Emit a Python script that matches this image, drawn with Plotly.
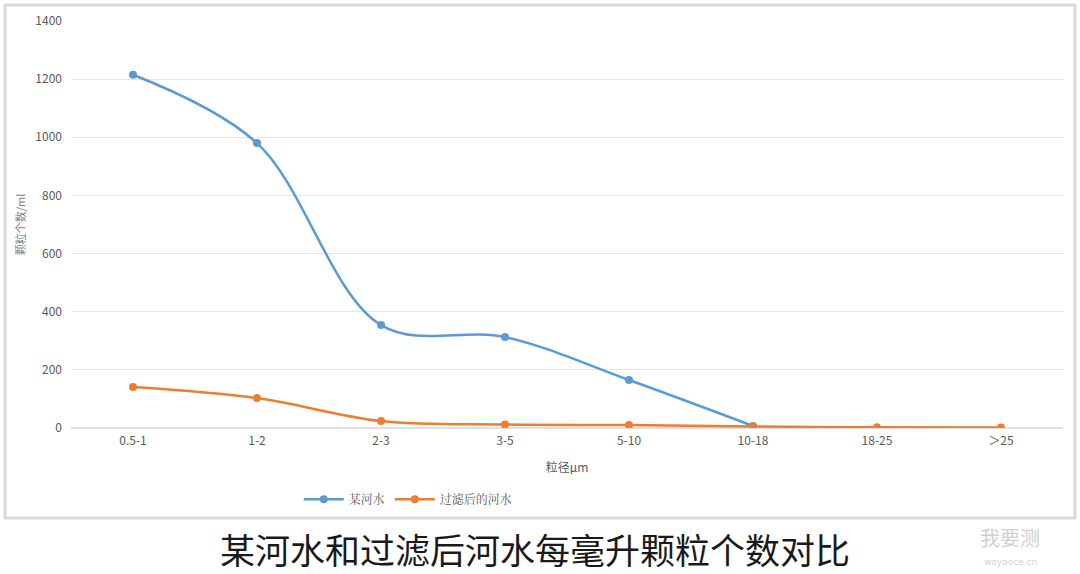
import plotly.graph_objects as go

categories = ["0.5-1", "1-2", "2-3", "3-5", "5-10", "10-18", "18-25", "＞25"]
river = [1215, 980, 354, 313, 165, 7, None, None]
filtered = [141, 103, 24, 12, 10, 5, 3, 2]
y_ticks = [0, 200, 400, 600, 800, 1000, 1200, 1400]

font_cjk = "Noto Sans CJK SC"
fig = go.Figure()
fig.add_trace(go.Scatter(
    x=categories, y=river, name="某河水", mode="lines+markers",
    line=dict(color="#5B9BD5", width=2.5, shape="spline", smoothing=1),
    marker=dict(size=8, color="#5B9BD5"), connectgaps=False))
fig.add_trace(go.Scatter(
    x=categories, y=filtered, name="过滤后的河水", mode="lines+markers",
    line=dict(color="#ED7D31", width=2.5, shape="spline", smoothing=1),
    marker=dict(size=8, color="#ED7D31")))

fig.update_layout(
    width=1080, height=574,
    margin=dict(l=71, r=17, t=21, b=146),
    paper_bgcolor="white", plot_bgcolor="white",
    font=dict(family=font_cjk, size=12, color="#595959"),
    xaxis=dict(type="category", categoryorder="array", categoryarray=categories,
               range=[-0.5, 7.5],
               showgrid=False, showline=False, zeroline=False,
               ticks="", tickfont=dict(size=12, color="#595959"), ticklabelstandoff=4,
               title=dict(text="粒径μm", font=dict(size=12, color="#595959"), standoff=16)),
    yaxis=dict(range=[0, 1400], tickvals=y_ticks, showgrid=True, gridcolor="#e6e6e6",
               gridwidth=1, zeroline=True, zerolinecolor="#e0e0e0", zerolinewidth=1.5,
               showline=False, ticks="", tickfont=dict(size=12, color="#595959"),
               ticklabelstandoff=8,
               title=dict(text="颗粒个数/ml", font=dict(size=11, color="#7f7f7f"), standoff=7)),
    legend=dict(orientation="h", x=0.34, y=-0.175, xanchor="center", yanchor="middle",
                font=dict(size=12, color="#595959", family="Noto Serif CJK SC, " + font_cjk),
                itemwidth=40, tracegroupgap=0),
    showlegend=True,
)

fig.add_shape(type="rect", xref="paper", yref="paper",
              x0=(5 - 71) / 992, x1=(1075 - 71) / 992,
              y0=(428 - 518) / 407, y1=(428 - 5) / 407,
              line=dict(color="#d9d9d9", width=3), layer="below")

fig.add_annotation(text="某河水和过滤后河水每毫升颗粒个数对比", xref="paper", yref="paper",
                   x=(535 - 71) / 992, y=(428 - 548) / 407, showarrow=False,
                   font=dict(family=font_cjk, size=35, color="#1a1a1a"),
                   xanchor="center", yanchor="middle")
fig.add_annotation(text="我要测", xref="paper", yref="paper",
                   x=(1010 - 71) / 992, y=(428 - 537) / 407, showarrow=False,
                   font=dict(family=font_cjk, size=20, color="#d0d0d0"),
                   xanchor="center", yanchor="middle")
fig.add_annotation(text="woyaoce.cn", xref="paper", yref="paper",
                   x=(1010 - 71) / 992, y=(428 - 562) / 407, showarrow=False,
                   font=dict(family="DejaVu Sans", size=9, color="#d0d0d0"),
                   xanchor="center", yanchor="middle")

fig.write_html("out.html")
